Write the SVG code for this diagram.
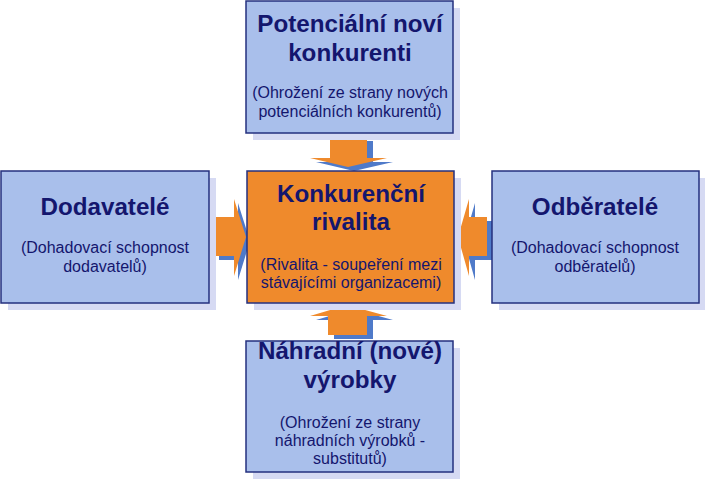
<svg xmlns="http://www.w3.org/2000/svg" width="706" height="479" viewBox="0 0 706 479">
<style>
.bg{fill:#ffffff}
.sh{fill:#d6daf3}
.box{fill:#a9bfeb;stroke:#25307f;stroke-width:1.5}
.core{fill:#ef8a2c;stroke:#25307f;stroke-width:1.5}
.t{font-family:"Liberation Sans",Arial,sans-serif;font-weight:bold;font-size:24.2px;fill:#14166e;text-anchor:middle}
.s{font-family:"Liberation Sans",Arial,sans-serif;font-size:16px;fill:#14166e;text-anchor:middle}
.ash{fill:#4f7ac9}
.arr{fill:#ef8a2c}
</style>
<rect class="bg" x="0" y="0" width="706" height="479"/>
<g id="connectors">
  <g id="arrow-top">
    <polygon class="ash" transform="translate(6,4)" points="330,137 367,137 367,158 387,158 348,167 310,158 330,158"/>
    <polygon class="arr" points="330,137 367,137 367,158 387,158 348,167 310,158 330,158"/>
  </g>
  <g id="arrow-bottom">
    <polygon class="ash" transform="translate(6,4)" points="328,335 367,335 367,316 387,316 347,305 310,316 328,316"/>
    <polygon class="arr" points="328,335 367,335 367,316 387,316 347,305 310,316 328,316"/>
  </g>
  <g id="arrow-left">
    <polygon class="ash" transform="translate(4,4)" points="215,217 234,217 234,199 246,237 234,276 234,256 215,256"/>
    <polygon class="arr" points="215,217 234,217 234,199 246,237 234,276 234,256 215,256"/>
  </g>
  <g id="arrow-right">
    <polygon class="ash" transform="translate(6,4)" points="487,217 469,217 469,199 458,237 469,276 469,256 487,256"/>
    <polygon class="arr" points="487,217 469,217 469,199 458,237 469,276 469,256 487,256"/>
  </g>
</g>
<g id="node-top">
  <rect class="sh" x="253" y="8" width="207" height="132"/>
  <rect class="box" x="246" y="1" width="207" height="132"/>
  <text class="t" x="350" y="32">Potenciální noví</text>
  <text class="t" x="350" y="61">konkurenti</text>
  <text class="s" x="350" y="98">(Ohrožení ze strany nových</text>
  <text class="s" x="350" y="117">potenciálních konkurentů)</text>
</g>
<g id="node-center">
  <rect class="sh" x="254" y="178" width="207" height="132"/>
  <rect class="core" x="247" y="171" width="207" height="132"/>
  <text class="t" x="351" y="202">Konkurenční</text>
  <text class="t" x="351" y="230">rivalita</text>
  <text class="s" x="351" y="270">(Rivalita - soupeření mezi</text>
  <text class="s" x="351" y="288">stávajícími organizacemi)</text>
</g>
<g id="node-left">
  <rect class="sh" x="8" y="178" width="208" height="132"/>
  <rect class="box" x="1" y="171" width="208" height="132"/>
  <text class="t" x="105" y="215">Dodavatelé</text>
  <text class="s" x="105" y="253">(Dohadovací schopnost</text>
  <text class="s" x="105" y="272">dodavatelů)</text>
</g>
<g id="node-right">
  <rect class="sh" x="499" y="178" width="206" height="132"/>
  <rect class="box" x="492" y="171" width="207" height="132"/>
  <text class="t" x="595" y="215">Odběratelé</text>
  <text class="s" x="595" y="253">(Dohadovací schopnost</text>
  <text class="s" x="595" y="272">odběratelů)</text>
</g>
<g id="node-bottom">
  <rect class="sh" x="253" y="348" width="207" height="131"/>
  <rect class="box" x="246" y="341" width="207" height="131"/>
  <text class="t" x="350" y="359">Náhradní (nové)</text>
  <text class="t" x="350" y="388">výrobky</text>
  <text class="s" x="350" y="428">(Ohrožení ze strany</text>
  <text class="s" x="350" y="446">náhradních výrobků -</text>
  <text class="s" x="350" y="464">substitutů)</text>
</g>
</svg>
